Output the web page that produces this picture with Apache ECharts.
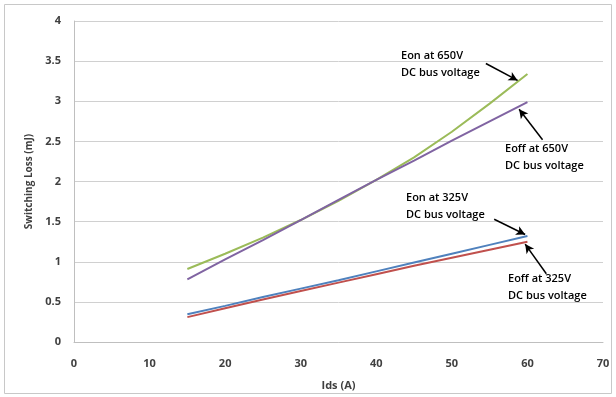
<!DOCTYPE html>
<html><head><meta charset="utf-8">
<script src="https://cdn.jsdelivr.net/npm/echarts@6/dist/echarts.min.js"></script>
<style>html,body{margin:0;padding:0;background:#fff}#c{width:616px;height:397px}</style>
</head><body><div id="c"></div>
<script>
var ids = [15, 20, 25, 30, 35, 40, 45, 50, 55, 60];
var eon650 = [0.91, 1.10, 1.30, 1.52, 1.76, 2.02, 2.30, 2.62, 2.97, 3.34];
var eoff650 = [0.78, 1.03, 1.27, 1.52, 1.77, 2.02, 2.26, 2.51, 2.75, 2.99];
var eon325 = [0.345, 0.45, 0.56, 0.665, 0.77, 0.88, 0.99, 1.10, 1.21, 1.32];
var eoff325 = [0.31, 0.42, 0.53, 0.635, 0.74, 0.845, 0.95, 1.05, 1.15, 1.25];
var xName = 'Ids (A)';
var yName = 'Switching Loss (mJ)';
var notes = [
  {text: 'Eon at 650V\nDC bus voltage', from: [54.5, 3.47], to: [58.7, 3.26]},
  {text: 'Eoff at 650V\nDC bus voltage', from: [62.0, 2.52], to: [58.9, 2.90]},
  {text: 'Eon at 325V\nDC bus voltage', from: [55.6, 1.53], to: [59.7, 1.34]},
  {text: 'Eoff at 325V\nDC bus voltage', from: [62.5, 0.85], to: [59.7, 1.22]}
];
var notePos = [[401, 47], [505, 140], [406, 189], [508, 270]];

function pairs(ys){ return ids.map(function(x,i){return [x, ys[i]];}); }
var font = 'Open Sans';
var chart = echarts.init(document.getElementById('c'));
var arrows = notes.map(function(n){ return [{coord: n.from}, {coord: n.to}]; });
chart.setOption({
  animation: false,
  grid: {left: 74, right: 13, top: 21, bottom: 55},
  xAxis: {type: 'value', min: 0, max: 70, interval: 10,
    name: xName, nameLocation: 'middle', nameGap: 38,
    nameTextStyle: {fontFamily: font, fontWeight: 'bold', fontSize: 11, color: '#404040'},
    axisLine: {show: true, lineStyle: {color: '#bfbfbf'}}, axisTick: {show: false},
    axisLabel: {fontFamily: font, fontWeight: 'bold', fontSize: 11, color: '#404040', margin: 16},
    splitLine: {show: false}},
  yAxis: {type: 'value', min: 0, max: 4, interval: 0.5,
    name: yName, nameLocation: 'middle', nameGap: 40,
    nameTextStyle: {fontFamily: font, fontWeight: 'bold', fontSize: 10, color: '#404040'},
    axisLine: {show: true, lineStyle: {color: '#bfbfbf'}}, axisTick: {show: false},
    axisLabel: {fontFamily: font, fontWeight: 'bold', fontSize: 11, color: '#404040', margin: 13},
    splitLine: {show: true, lineStyle: {color: '#d0d0d0'}}},
  series: [
    {type: 'line', data: pairs(eon650), symbol: 'none', lineStyle: {color: '#9BBB59', width: 2}, z: 3},
    {type: 'line', data: pairs(eoff650), symbol: 'none', lineStyle: {color: '#8064A2', width: 2}, z: 4},
    {type: 'line', data: pairs(eon325), symbol: 'none', lineStyle: {color: '#4F81BD', width: 2}, z: 3},
    {type: 'line', data: pairs(eoff325), symbol: 'none', lineStyle: {color: '#C0504D', width: 2}, z: 4,
      markLine: {silent: true, symbol: ['none', 'arrow'], symbolSize: [7, 9],
        label: {show: false}, lineStyle: {color: '#000', width: 1.5, type: 'solid'},
        data: arrows}}
  ],
  graphic: [
    {type: 'rect', shape: {x: 4.5, y: 4.5, width: 607, height: 389}, style: {fill: 'none', stroke: '#c8c8c8', lineWidth: 1}, silent: true, z: -1}
  ].concat(notes.map(function(n, i){
    return {type: 'text', left: notePos[i][0], top: notePos[i][1],
      style: {text: n.text, fontFamily: font, fontSize: 11, fontWeight: 600, fill: '#000', lineHeight: 17.5}};
  }))
});
</script></body></html>
